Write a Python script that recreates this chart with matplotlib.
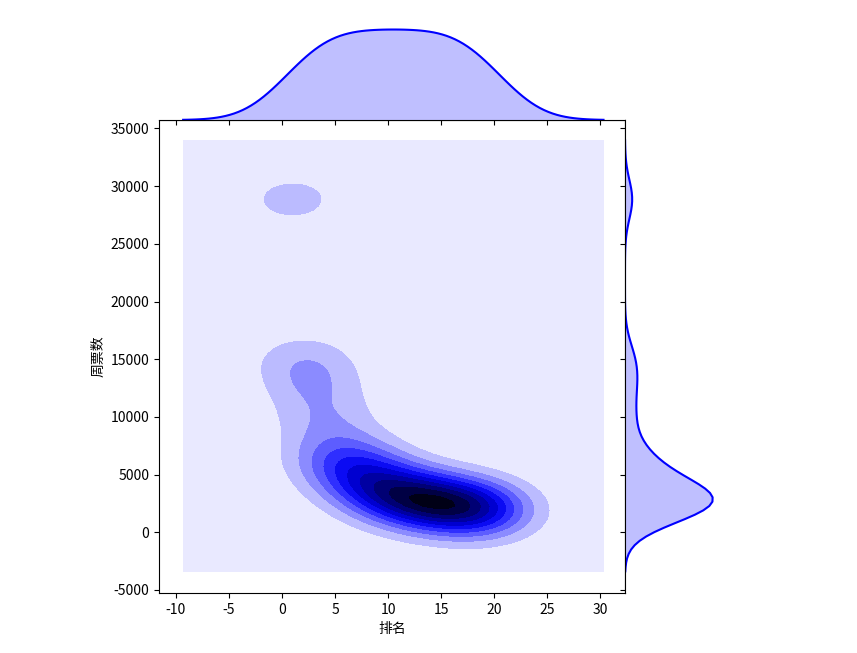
import numpy as np
import matplotlib
matplotlib.use("Agg")
import matplotlib.pyplot as plt
from matplotlib.colors import LinearSegmentedColormap
import colorsys

plt.rcParams['font.family'] = ['Noto Sans CJK SC', 'DejaVu Sans']
plt.rcParams['axes.unicode_minus'] = False

# ---- data: rank vs weekly box office ----
rank = [1, 2, 3, 4, 5, 6, 7, 8, 9, 10, 11, 12, 13, 14, 15, 16, 17, 18, 19, 20]
weekly = [28850, 15000, 12800, 10000, 7200, 6100, 5400, 4600, 4000, 3500,
          3200, 2900, 2700, 2550, 2450, 2350, 2200, 2050, 1900, 1730]
x_label = "排名"
y_label = "周票数"

x = np.asarray(rank, dtype=float)
y = np.asarray(weekly, dtype=float)


def bw_scott(a):
    iqr = (np.percentile(a, 75) - np.percentile(a, 25)) / 1.349
    A = min(np.std(a, ddof=1), iqr)
    return 1.059 * A * len(a) ** (-0.2)


def support(a, bw, gridsize=100, cut=3):
    return np.linspace(a.min() - cut * bw, a.max() + cut * bw, gridsize)


def kde1d(a, bw, grid):
    d = (grid[:, None] - a[None, :]) / bw
    return np.exp(-0.5 * d ** 2).sum(axis=1) / (len(a) * bw * np.sqrt(2 * np.pi))


bx, by = bw_scott(x), bw_scott(y)
xs, ys = support(x, bx), support(y, by)
xx, yy = np.meshgrid(xs, ys)
dx = (xx[..., None] - x) / bx
dy = (yy[..., None] - y) / by
z = (np.exp(-0.5 * (dx ** 2 + dy ** 2)).sum(axis=-1)
     / (len(x) * 2 * np.pi * bx * by))

# colormap like seaborn's blend from white to blue to black
h, l0, s = colorsys.rgb_to_hls(0, 0, 1)
cols = [colorsys.hls_to_rgb(h, l, s) for l in np.linspace(1, 0, 12)]
cmap = LinearSegmentedColormap.from_list("blend", cols)

W, H = 857, 653
fig = plt.figure(figsize=(W / 100, H / 100), dpi=100)
L, R, T, B = 159, 625, 120, 593
ax = fig.add_axes([L / W, (H - B) / H, (R - L) / W, (B - T) / H])
axx = fig.add_axes([L / W, (H - T) / H, (R - L) / W, 95 / H], sharex=ax)
axy = fig.add_axes([R / W, (H - B) / H, 92 / W, (B - T) / H], sharey=ax)

ax.contourf(xx, yy, z, 10, cmap=cmap)
ax.set_xlim(-11.6, 32.35)
ax.set_ylim(-5260, 35730)
ax.set_xticks([-10, -5, 0, 5, 10, 15, 20, 25, 30])
ax.set_yticks([-5000, 0, 5000, 10000, 15000, 20000, 25000, 30000, 35000])
ax.set_xlabel(x_label, fontsize=10)
ax.set_ylabel(y_label, fontsize=10)
ax.tick_params(labelsize=10)

gx = support(x, bx)
fx = kde1d(x, bx, gx)
axx.plot(gx, fx, color="b", lw=1.5)
axx.fill_between(gx, 1e-12, fx, facecolor="b", alpha=0.25)
axx.set_ylim(0, fx.max() * 1.05)

gy = support(y, by)
fy = kde1d(y, by, gy)
axy.plot(fy, gy, color="b", lw=1.5)
axy.fill_betweenx(gy, 1e-12, fy, facecolor="b", alpha=0.25)
axy.set_xlim(0, fy.max() * 1.05)

for a in (axx, axy):
    a.spines['top'].set_visible(False)
    a.spines['right'].set_visible(False)
axx.spines['left'].set_visible(False)
axy.spines['bottom'].set_visible(False)
axx.tick_params(axis='x', labelbottom=False)
axx.tick_params(axis='y', left=False, labelleft=False)
axy.tick_params(axis='y', labelleft=False)
axy.tick_params(axis='x', bottom=False, labelbottom=False)

fig.savefig("out.png", dpi=100)
